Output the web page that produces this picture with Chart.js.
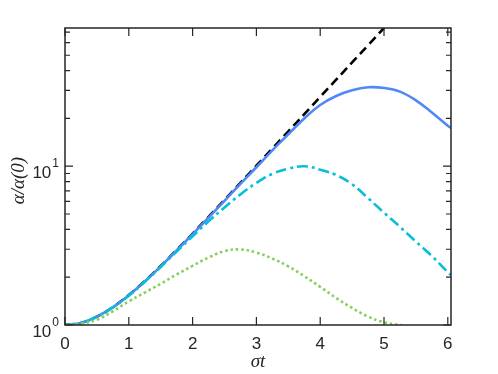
<!DOCTYPE html>
<html>
<head>
<meta charset="utf-8">
<script src="https://cdn.jsdelivr.net/npm/chart.js@4"></script>
<style>
  html, body { margin: 0; background: #fff; }
  #wrap { width: 498px; height: 374px; }
</style>
</head>
<body>
<div id="wrap"><canvas id="grafico"></canvas></div>
<script>
// eixo horizontal (sigma t)
const tempo = [0, 0.25, 0.5, 0.75, 1, 1.25, 1.5, 1.75, 2, 2.25, 2.5, 2.75, 3, 3.25, 3.5,
               3.75, 4, 4.25, 4.5, 4.75, 5, 5.25, 5.5, 5.75, 6, 6.05];

// curvas
const tracejada = [1, 1.031, 1.128, 1.295, 1.543, 1.888, 2.352, 2.964, 3.762, 4.797, 6.132,
                   7.853, 10.07, 12.92, 16.57, 21.27, 27.31, 35.07, 45.01, 57.8, 74.21];
const azul = [1, 1.03, 1.13, 1.29, 1.54, 1.88, 2.34, 2.95, 3.73, 4.75, 6.05, 7.75, 9.85,
              12.6, 15.9, 20.0, 24.3, 27.7, 30.1, 31.4, 31.1, 29.5, 26.0, 21.8, 18.0, 17.4];
const ciano = [1, 1.03, 1.13, 1.29, 1.53, 1.87, 2.32, 2.9, 3.62, 4.5, 5.5, 6.65, 7.85,
               8.95, 9.65, 10.0, 9.5, 8.8, 7.7, 6.3, 5.1, 4.15, 3.35, 2.72, 2.15, 2.06];
const verde = [1, 1.02, 1.08, 1.22, 1.41, 1.6, 1.82, 2.08, 2.36, 2.66, 2.92, 2.99, 2.86,
               2.62, 2.34, 2.03, 1.74, 1.48, 1.28, 1.13, 1.04, 1.0, 0.96];

// marcas dos eixos
const ticksX = [0, 1, 2, 3, 4, 5, 6];
const ticksYMaior = [1, 10];
const ticksYMenor = [2, 3, 4, 5, 6, 7, 8, 9, 20, 30, 40, 50, 60, 70];
const rotulosY = ['0', '1'];

function pares(valores) {
    return valores.map((v, i) => ({ x: tempo[i], y: v }));
}

const corEixo = '#262626';

// desenha caixa, marcas para dentro e rótulos no estilo MATLAB
const eixosPlugin = {
    id: 'eixos',
    afterDraw(chart) {
        const ctx = chart.ctx;
        const a = chart.chartArea;
        const sx = chart.scales.x;
        const sy = chart.scales.y;
        ctx.save();
        ctx.strokeStyle = corEixo;
        ctx.lineWidth = 1.5;
        ctx.setLineDash([]);
        ctx.strokeRect(a.left, a.top, a.right - a.left, a.bottom - a.top);

        ctx.lineWidth = 1.2;
        ctx.beginPath();
        ticksX.forEach(v => {
            const px = sx.getPixelForValue(v);
            ctx.moveTo(px, a.bottom); ctx.lineTo(px, a.bottom - 8);
            ctx.moveTo(px, a.top); ctx.lineTo(px, a.top + 8);
        });
        ticksYMaior.forEach(v => {
            const py = sy.getPixelForValue(v);
            ctx.moveTo(a.left, py); ctx.lineTo(a.left + 8, py);
            ctx.moveTo(a.right, py); ctx.lineTo(a.right - 8, py);
        });
        ticksYMenor.forEach(v => {
            const py = sy.getPixelForValue(v);
            ctx.moveTo(a.left, py); ctx.lineTo(a.left + 5, py);
            ctx.moveTo(a.right, py); ctx.lineTo(a.right - 5, py);
        });
        ctx.stroke();

        // rótulos do eixo x
        ctx.fillStyle = corEixo;
        ctx.font = '17px "Liberation Sans", Arial, sans-serif';
        ctx.textAlign = 'center';
        ctx.textBaseline = 'alphabetic';
        ticksX.forEach(v => {
            ctx.fillText(String(v), sx.getPixelForValue(v), a.bottom + 24);
        });

        // rótulos do eixo y (10 com expoente)
        ticksYMaior.forEach((v, i) => {
            const py = sy.getPixelForValue(v);
            ctx.font = '12px "Liberation Sans", Arial, sans-serif';
            ctx.textAlign = 'right';
            const wSup = ctx.measureText(rotulosY[i]).width;
            const xFim = a.left - 6;
            ctx.fillText(rotulosY[i], xFim, py + 1);
            ctx.font = '17px "Liberation Sans", Arial, sans-serif';
            ctx.fillText('10', xFim - wSup - 1, py + 12);
        });

        // títulos dos eixos
        ctx.textAlign = 'center';
        ctx.font = 'italic 19px "Liberation Serif", "DejaVu Serif", serif';
        ctx.fillText('σt', (a.left + a.right) / 2, a.bottom + 42);

        ctx.save();
        ctx.translate(24, (a.top + a.bottom) / 2 + 4);
        ctx.rotate(-Math.PI / 2);
        ctx.fillText('α/α(0)', 0, 0);
        ctx.restore();
        ctx.restore();
    }
};

const ctx = document.getElementById('grafico').getContext('2d');
new Chart(ctx, {
    type: 'line',
    data: {
        datasets: [
            {
                label: 'verde',
                data: pares(verde),
                borderColor: '#86d05c',
                borderWidth: 2.6,
                borderDash: [2.6, 2.8],
                pointRadius: 0,
                tension: 0.4
            },
            {
                label: 'ciano',
                data: pares(ciano),
                borderColor: '#08bfd8',
                borderWidth: 2.6,
                borderDash: [11, 4, 3, 4],
                pointRadius: 0,
                tension: 0.4
            },
            {
                label: 'azul',
                data: pares(azul),
                borderColor: '#5088f8',
                borderWidth: 2.6,
                pointRadius: 0,
                tension: 0.4
            },
            {
                label: 'tracejada',
                data: pares(tracejada),
                borderColor: '#000000',
                borderWidth: 2.6,
                borderDash: [9, 5],
                pointRadius: 0,
                tension: 0.4
            }
        ]
    },
    options: {
        responsive: true,
        maintainAspectRatio: false,
        animation: false,
        layout: { padding: { left: 65, right: 47, top: 28, bottom: 49 } },
        plugins: { legend: { display: false }, tooltip: { enabled: false } },
        scales: {
            x: { type: 'linear', min: 0, max: 6.05, display: false },
            y: { type: 'logarithmic', min: 1, max: 74.21, display: false }
        }
    },
    plugins: [eixosPlugin]
});
</script>
</body>
</html>
